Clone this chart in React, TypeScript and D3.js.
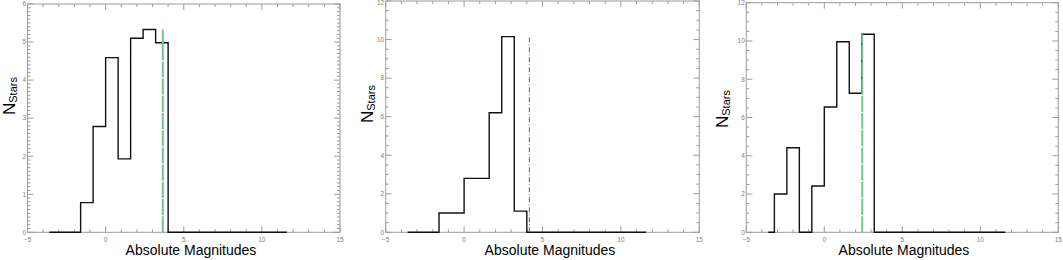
import React from "react";
import * as d3 from "d3";

// ---- data ----
const xTicks = [-5, 0, 5, 10, 15];
const xMinorTicks = [-4, -3, -2, -1, 1, 2, 3, 4, 6, 7, 8, 9, 11, 12, 13, 14];
const yTicks1 = [0, 1, 2, 3, 4, 5, 6];
const yTicks23 = [0, 2, 4, 6, 8, 10, 12];
const binWidth = 0.8;
const histRange = [-3.6, 11.6];

const binEdges1 = [-1.6, -0.8, 0, 0.8, 1.6, 2.4, 3.2];
const counts1 = [0.78, 2.78, 4.59, 1.93, 5.1, 5.33, 4.98];
const binEdges2 = [-1.6, -0.8, 0, 0.8, 1.6, 2.4, 3.2];
const counts2 = [1.0, 1.0, 2.8, 2.8, 6.2, 10.15, 1.1];
const binEdges3 = [-3.2, -2.4, -1.6, -0.8, 0, 0.8, 1.6, 2.4];
const counts3 = [2.0, 4.42, 0, 2.42, 6.55, 9.96, 7.27, 10.35];

const markerX = [3.66, 4.16, 2.43];
const markerTop = [5.33, 10.1, 10.35];

type Panel = {
  left: number; right: number; top: number; bottom: number;
  yMax: number; yTicks: number[]; yMinorStep: number;
  edges: number[]; counts: number[];
  mx: number; mTop: number; mStyle: "light" | "dashdot";
  labelX: number; nX: number; nY: number;
};

const panels: Panel[] = [
  { left: 27.5, right: 340, top: 4, bottom: 232.3, yMax: 6, yTicks: yTicks1, yMinorStep: 0.1,
    edges: binEdges1, counts: counts1, mx: markerX[0], mTop: markerTop[0], mStyle: "light",
    labelX: 191, nX: 15, nY: 115 },
  { left: 385.7, right: 699.3, top: 1, bottom: 232.3, yMax: 12, yTicks: yTicks23, yMinorStep: 0.5,
    edges: binEdges2, counts: counts2, mx: markerX[1], mTop: markerTop[1], mStyle: "dashdot",
    labelX: 550, nX: 372.5, nY: 123 },
  { left: 746.3, right: 1058.3, top: 2.7, bottom: 232.3, yMax: 12, yTicks: yTicks23, yMinorStep: 0.5,
    edges: binEdges3, counts: counts3, mx: markerX[2], mTop: markerTop[2], mStyle: "light",
    labelX: 904, nX: 728, nY: 128 },
];

const FONT = "'Liberation Sans', Arial, Helvetica, sans-serif";
const AXIS = "#9c9c9c";
const TICKTXT = "#808080";

function PanelView({ p }: { p: Panel }) {
  const x = d3.scaleLinear().domain([-5, 15]).range([p.left, p.right]);
  const y = d3.scaleLinear().domain([0, p.yMax]).range([p.bottom, p.top]);

  const pts: [number, number][] = [[histRange[0], 0]];
  p.edges.forEach((e, i) => pts.push([e, p.counts[i]]));
  const lastEdge = p.edges[p.edges.length - 1] + binWidth;
  pts.push([lastEdge, 0]);
  pts.push([histRange[1], 0]);
  const line = d3
    .line<[number, number]>()
    .x((d) => x(d[0]))
    .y((d) => y(d[1]))
    .curve(d3.curveStepAfter);

  const yMinor = d3.range(0, p.yMax + 1e-9, p.yMinorStep).filter(
    (v) => !p.yTicks.some((t) => Math.abs(t - v) < 1e-6)
  );

  const mStroke = p.mStyle === "light" ? "#6cc98a" : "#1f8a2e";
  const mWidth = p.mStyle === "light" ? 2 : 1;
  const mDash = p.mStyle === "light" ? "16 1.2" : "5 2 1 2";

  return (
    <g>
      {xMinorTicks.map((t) => (
        <g key={"xm" + t}>
          <line x1={x(t)} x2={x(t)} y1={p.bottom} y2={p.bottom - 3} stroke={AXIS} strokeWidth={1} />
          <line x1={x(t)} x2={x(t)} y1={p.top} y2={p.top + 3} stroke={AXIS} strokeWidth={1} />
        </g>
      ))}
      {xTicks.map((t) => (
        <g key={"xM" + t}>
          <line x1={x(t)} x2={x(t)} y1={p.bottom} y2={p.bottom - 6} stroke={AXIS} strokeWidth={1} />
          <line x1={x(t)} x2={x(t)} y1={p.top} y2={p.top + 6} stroke={AXIS} strokeWidth={1} />
          <text x={x(t)} y={p.bottom + 9.2} fontSize={6.5} fill={TICKTXT} textAnchor="middle" fontFamily={FONT}>
            {t < 0 ? "\u2212" + Math.abs(t) : String(t)}
          </text>
        </g>
      ))}
      {yMinor.map((t) => (
        <g key={"ym" + t}>
          <line x1={p.left} x2={p.left + 3} y1={y(t)} y2={y(t)} stroke={AXIS} strokeWidth={1} />
          <line x1={p.right} x2={p.right - 3} y1={y(t)} y2={y(t)} stroke={AXIS} strokeWidth={1} />
        </g>
      ))}
      {p.yTicks.map((t) => (
        <g key={"yM" + t}>
          <line x1={p.left} x2={p.left + 6} y1={y(t)} y2={y(t)} stroke={AXIS} strokeWidth={1} />
          <line x1={p.right} x2={p.right - 6} y1={y(t)} y2={y(t)} stroke={AXIS} strokeWidth={1} />
          <text x={p.left - 1.5} y={Math.max(y(t) + 2.3, 5.2)} fontSize={6.5} fill={TICKTXT} textAnchor="end" fontFamily={FONT}>
            {t}
          </text>
        </g>
      ))}
      <rect x={p.left} y={p.top} width={p.right - p.left} height={p.bottom - p.top}
        fill="none" stroke={AXIS} strokeWidth={1} />

      <path d={line(pts) || ""} fill="none" stroke="#111" strokeWidth={1.4} />

      <line x1={x(p.mx)} x2={x(p.mx)} y1={y(0)} y2={y(p.mTop)}
        stroke={mStroke} strokeWidth={mWidth} strokeDasharray={mDash} />

      <text x={p.labelX} y={255} fontSize={14} textAnchor="middle" fontFamily={FONT} fill="#000">
        Absolute Magnitudes
      </text>
      <text transform={`translate(${p.nX},${p.nY}) rotate(-90)`} fontFamily={FONT} fill="#000">
        <tspan fontSize={17}>N</tspan>
        <tspan fontSize={11} dy={2}>Stars</tspan>
      </text>
    </g>
  );
}

export default function App() {
  return (
    <svg width={1063} height={260} style={{ position: "absolute", left: 0, top: 0, background: "#fff" }}>
      <rect x={0} y={0} width={1063} height={260} fill="#fff" />
      {panels.map((p, i) => (
        <PanelView key={i} p={p} />
      ))}
    </svg>
  );
}
